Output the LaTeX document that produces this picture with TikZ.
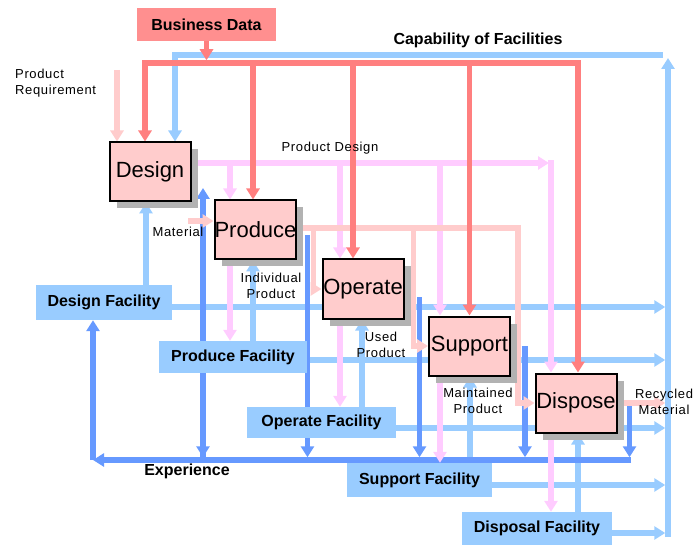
\documentclass[tikz,border=0pt]{standalone}
\usepackage{fontspec}
\setmainfont{Liberation Sans}
\newfontfamily\lblfont[LetterSpace=5]{Liberation Sans}
\usepackage{xcolor,tikz}
\usetikzlibrary{arrows.meta,calc,positioning,shadows,backgrounds}
\tikzset{>={Triangle[width=13pt,length=11pt]}}
\definecolor{bizred}{HTML}{FF7F7F}
\definecolor{bizfill}{HTML}{FF8F8F}
\definecolor{boxpink}{HTML}{FFCCCC}
\definecolor{flowpink}{HTML}{FFCCCC}
\definecolor{pdpink}{HTML}{FFCCFF}
\definecolor{capblue}{HTML}{99CCFF}
\definecolor{expblue}{HTML}{6699FF}
\definecolor{shadowgray}{HTML}{B2B2B2}
\tikzset{
  procbox/.style={draw=black, line width=2pt, fill=boxpink, minimum width=81pt, minimum height=59pt, inner sep=0pt,
    font=\fontsize{22}{24}\selectfont, drop shadow={shadow xshift=7pt, shadow yshift=-7pt, fill=shadowgray, opacity=1}},
  facbox/.style={fill=capblue, inner sep=0pt, font=\bfseries\fontsize{16}{19}\selectfont},
  bizbox/.style={fill=bizfill, inner sep=0pt, minimum width=139pt, minimum height=33pt, font=\bfseries\fontsize{16}{19}\selectfont},
  headlbl/.style={inner sep=0pt, font=\bfseries\fontsize{16}{19}\selectfont},
  lbl/.style={inner sep=0pt, align=center, font=\lblfont\fontsize{13}{16}\selectfont},
  redline/.style={draw=bizred, line width=5.5pt},
  capline/.style={draw=capblue, line width=5.5pt},
  expline/.style={draw=expblue, line width=5.5pt},
  pdline/.style={draw=pdpink, line width=5.5pt},
  flowline/.style={draw=flowpink, line width=5.5pt},
  tobus/.style={shorten >=2.75pt}
}

\begin{document}
\begin{tikzpicture}[x=1pt,y=-1pt]
\useasboundingbox (0,0) rectangle (693,545);
%%%%
\node[bizbox] (bizdata) at (206.5,24.5) {Business Data};
\node[headlbl] (capab) at (478,40) {Capability of Facilities};
\node[lbl, align=left, anchor=west] (prodreq) at (15,83) {Product\\Requirement};
\node[lbl] (proddesign) at (330,148) {Product Design};
\node[lbl] (material) at (178,232) {Material};
\node[lbl] (indiv) at (271,286) {Individual\\Product};
\node[lbl] (used) at (381,345) {Used\\Product};
\node[lbl] (maint) at (478,401) {Maintained\\Product};
\node[lbl] (recyc) at (664,402) {Recycled\\Material};
\node[headlbl] (exper) at (187,471) {Experience};
%%%%
\node[procbox] (design) at (150,172) {Design};
\node[procbox] (produce) at (255.5,230) {Produce};
\node[procbox] (operate) at (363,289) {Operate};
\node[procbox] (support) at (469.5,346) {Support};
\node[procbox] (dispose) at (576,403) {Dispose};
%%%%
\node[facbox, minimum width=136pt, minimum height=35pt] (desfac) at (104,302.5) {Design Facility};
\node[facbox, minimum width=148pt, minimum height=32pt] (prodfac) at (233,357) {Produce Facility};
\node[facbox, minimum width=149pt, minimum height=31pt] (opfac) at (321.5,422.5) {Operate Facility};
\node[facbox, minimum width=145pt, minimum height=34pt] (supfac) at (419.5,480) {Support Facility};
\node[facbox, minimum width=150pt, minimum height=33pt] (dispfac) at (537,528.5) {Disposal Facility};
%%%%
\coordinate (redL) at (145,63);
\coordinate (redR) at (578,63);
\coordinate (capL) at (175,55);
\coordinate (capR) at (663,55);
\coordinate (railT) at (668,58);
\coordinate (railB) at (668,537);
\coordinate (pdR) at (549,163);
\coordinate (flowR) at (518,228);
\coordinate (preq) at (117,70);
\coordinate (matS) at (188,221);
\coordinate (expL) at (93,460);
\coordinate (expR) at (631,460);
\coordinate (expUp) at ([xshift=11.5pt,yshift=-16pt]design.east);

\begin{scope}[on background layer]
%%%% capability of facilities
\draw[capline,->,tobus] ([yshift=-4.5pt]desfac.east) -- ([yshift=-4.5pt]desfac.east -| railB);
\draw[capline,->,tobus] ([yshift=-3pt]prodfac.east) -- ([yshift=-3pt]prodfac.east -| railB);
\draw[capline,->,tobus] ([yshift=-5.5pt]opfac.east) -- ([yshift=-5.5pt]opfac.east -| railB);
\draw[capline,->,tobus] ([yshift=-5pt]supfac.east) -- ([yshift=-5pt]supfac.east -| railB);
\draw[capline,->,tobus] ([yshift=-4.5pt]dispfac.east) -- ([yshift=-4.5pt]dispfac.east -| railB);
\draw[capline,->] (railB) -- (railT);
\draw[capline,->] (capR) -- (capL) -- (capL |- design.north);
\draw[capline,->] ([xshift=-4pt]design.south |- desfac.north) -- ([xshift=-4pt]design.south);
\draw[capline,->] ([xshift=-2.5pt]produce.south |- prodfac.north) -- ([xshift=-2.5pt]produce.south);
\draw[capline,->] ([xshift=-1pt]operate.south |- opfac.north) -- ([xshift=-1pt]operate.south);
\draw[capline,->] ([xshift=0.5pt]support.south |- supfac.north) -- ([xshift=0.5pt]support.south);
\draw[capline,->] ([xshift=2pt]dispose.south |- dispfac.north) -- ([xshift=2pt]dispose.south);
%%%% experience
\draw[expline,->] (expR) -- (expL);
\draw[expline,->] (expL) -- (expL |- desfac.south);
\draw[expline,->] (expUp |- expL) -- (expUp);
\draw[expline,->,tobus] (expUp |- prodfac.south) -- (expUp |- expL);
\draw[expline,->,tobus] ([xshift=10pt,yshift=-5pt]produce.east) -- ([xshift=10pt]produce.east |- expL);
\draw[expline,->,tobus] ([xshift=15pt,yshift=-8pt]operate.east) -- ([xshift=15pt]operate.east |- expL);
\draw[expline,->,tobus] ([xshift=14pt]support.east) -- ([xshift=14pt]support.east |- expL);
\draw[expline,->,tobus] ([xshift=12pt]dispose.east) -- ([xshift=12pt]dispose.east |- expL);
%%%% product design
\draw[pdline,->] ([yshift=9pt]design.east) -- (pdR);
\draw[pdline,->] ([xshift=-25.5pt,yshift=2.75pt]produce.north |- pdR) -- ([xshift=-25.5pt]produce.north);
\draw[pdline,->] ([xshift=-23pt,yshift=2.75pt]operate.north |- pdR) -- ([xshift=-23pt]operate.north);
\draw[pdline,->] ([xshift=-29.5pt,yshift=2.75pt]support.north |- pdR) -- ([xshift=-29.5pt]support.north);
\draw[pdline,->] ([xshift=-25pt,yshift=2.75pt]dispose.north |- pdR) -- ([xshift=-25pt]dispose.north);
\draw[pdline,->] ([xshift=-25.5pt]produce.south) -- ([xshift=-25.5pt]produce.south |- prodfac.north);
\draw[pdline,->] ([xshift=-23pt]operate.south) -- ([xshift=-23pt]operate.south |- opfac.north);
\draw[pdline,->] ([xshift=-29.5pt]support.south) -- ([xshift=-29.5pt]support.south |- supfac.north);
\draw[pdline,->] ([xshift=-25pt]dispose.south) -- ([xshift=-25pt]dispose.south |- dispfac.north);
%%%% product flow
\draw[flowline,->] (preq) -- (preq |- design.north);
\draw[flowline,->] (matS) -- ([yshift=9pt]produce.west);
\draw[flowline,->] ([yshift=2pt]produce.east) -- (flowR) -- (flowR |- dispose.west) -- (dispose.west);
\draw[flowline,->] ([xshift=16pt]produce.east |- flowR) -- ([xshift=16pt]produce.east |- operate.west) -- (operate.west);
\draw[flowline,->] ([xshift=9pt]operate.east |- flowR) -- ([xshift=9pt]operate.east |- support.west) -- (support.west);
\draw[flowline] ([yshift=4pt]operate.east) -- ([xshift=9pt,yshift=4pt]operate.east);
\draw[flowline] (support.east) -- (support.east -| flowR);
\draw[flowline,->,tobus] (dispose.east) -- (dispose.east -| railB);
%%%% business data
\draw[redline,->] (redR) -- (redL) -- (redL |- design.north);
\draw[redline,->] (redL) -- (redR) -- (redR |- dispose.north);
\draw[redline,->] ([xshift=-2.5pt]produce.north |- redL) -- ([xshift=-2.5pt]produce.north);
\draw[redline,->] ([xshift=-10pt]operate.north |- redL) -- ([xshift=-10pt]operate.north);
\draw[redline,->] (support.north |- redL) -- (support.north);
\draw[redline,->,tobus] (bizdata.south) -- (bizdata.south |- redL);
\end{scope}
\end{tikzpicture}
\end{document}
